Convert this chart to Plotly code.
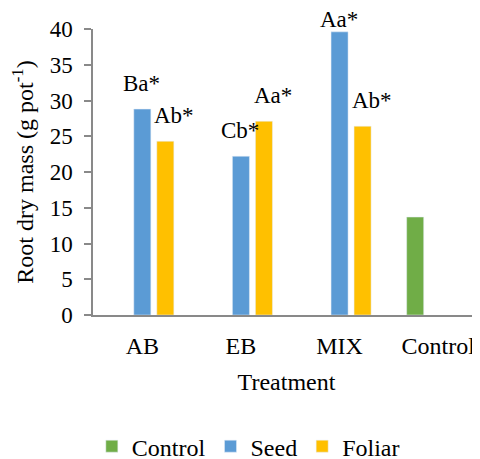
import plotly.graph_objects as go

categories = ["AB", "EB", "MIX", "Control"]
control_vals = [None, None, None, 13.7]
seed_vals = [28.8, 22.2, 39.6, None]
foliar_vals = [24.3, 27.1, 26.4, None]
seed_labels = ["Ba*", "Cb*", "Aa*", None]
foliar_labels = ["Ab*", "Aa*", "Ab*", None]
y_ticks = [0, 5, 10, 15, 20, 25, 30, 35, 40]

FONT = "Liberation Serif"
C_CONTROL = "#70AD47"
C_SEED = "#5B9BD5"
C_FOLIAR = "#FFC000"
AXIS = "#898989"

fig = go.Figure()
fig.add_trace(go.Bar(name="Control", x=categories, y=control_vals, marker_color=C_CONTROL))
fig.add_trace(go.Bar(name="Seed", x=categories, y=seed_vals, marker_color=C_SEED))
fig.add_trace(go.Bar(name="Foliar", x=categories, y=foliar_vals, marker_color=C_FOLIAR))

annotations = []
ymax = 40
for cat, v, lab in zip(categories, seed_vals, seed_labels):
    if lab is None:
        continue
    annotations.append(dict(x=cat, y=min(v, ymax - 2.3), xref="x", yref="y", text=lab,
                            showarrow=False, yanchor="bottom", xanchor="center",
                            xshift=-1, yshift=11, font=dict(family=FONT, size=23, color="black")))
for cat, v, lab in zip(categories, foliar_vals, foliar_labels):
    if lab is None:
        continue
    annotations.append(dict(x=cat, y=min(v, ymax - 2.3), xref="x", yref="y", text=lab,
                            showarrow=False, yanchor="bottom", xanchor="center",
                            xshift=32, yshift=11, font=dict(family=FONT, size=23, color="black")))

# page body has an 8px margin, so the figure is 8px smaller and margins are offset
fig.update_layout(
    width=472, height=451,
    margin=dict(l=85, r=0, t=20.5, b=144, autoexpand=False),
    plot_bgcolor="white", paper_bgcolor="white",
    barmode="group", bargap=0.3, bargroupgap=0.26,
    font=dict(family=FONT, color="black"),
    annotations=annotations,
    legend=dict(orientation="h", x=-0.003, xanchor="left", y=-0.46, yanchor="middle",
                font=dict(family=FONT, size=24, color="black"), traceorder="normal",
                bgcolor="rgba(0,0,0,0)"),
    xaxis=dict(range=[-0.5, 3.424], showline=True, linecolor=AXIS, linewidth=1.5,
               ticks="", tickfont=dict(family=FONT, size=24, color="black"),
               ticklabelstandoff=8,
               title=dict(text="Treatment", font=dict(family=FONT, size=24, color="black"), standoff=16)),
    yaxis=dict(range=[0, 40], tickvals=y_ticks, showgrid=False, zeroline=False,
               showline=True, linecolor=AXIS, linewidth=1.5,
               ticks="outside", ticklen=7, tickcolor=AXIS, tickwidth=1.5,
               ticklabelstandoff=7,
               tickfont=dict(family=FONT, size=23, color="black"),
               title=dict(text="Root dry mass (g pot<sup>-1</sup>)",
                          font=dict(family=FONT, size=24, color="black"), standoff=13)),
)

fig.write_html("out.html")
